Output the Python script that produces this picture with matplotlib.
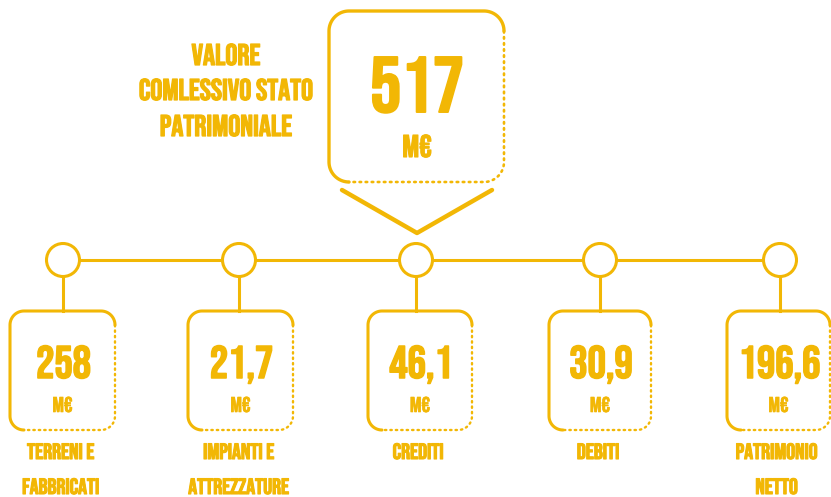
import numpy as np
import matplotlib
matplotlib.use("Agg")
import matplotlib.pyplot as plt
import matplotlib.patheffects as pe

# data
total_value = "517"
unit = "M€"
title_lines = ["VALORE", "COMLESSIVO STATO", "PATRIMONIALE"]
values = ["258", "21,7", "46,1", "30,9", "196,6"]
labels = [["TERRENI E", "FABBRICATI"], ["IMPIANTI E", "ATTREZZATURE"], ["CREDITI"],
          ["DEBITI"], ["PATRIMONIO", "NETTO"]]

col = "#F2B705"
font = ["Bebas Neue", "Oswald", "DejaVu Sans"]

fig = plt.figure(figsize=(8.31, 4.97), dpi=100)
ax = fig.add_axes([0, 0, 1, 1])
ax.set_xlim(0, 831)
ax.set_ylim(497, 0)
ax.axis("off")


def txt(x, y, s, cap, bold=0.8):
    # y is the baseline in pixels, cap is the cap height in pixels
    size = cap / 0.7 * 72 / 100
    ax.text(x, y, s, color=col, fontsize=size, family=font,
            ha="center", va="baseline",
            path_effects=[pe.withStroke(linewidth=bold, foreground=col)])


def arc(cx, cy, r, a0, a1, n=20):
    t = np.radians(np.linspace(a0, a1, n))
    return list(cx + r * np.cos(t)), list(cy + r * np.sin(t))


def box(x0, y0, x1, y1, r, lw_solid, lw_dot):
    # solid: bottom-left corner, left side, top, top-right corner
    xs, ys = [], []
    for c, a in [((x0 + r, y1 - r), 90), ((x0 + r, y0 + r), 180), ((x1 - r, y0 + r), 270)]:
        px, py = arc(c[0], c[1], r, a, a + 90)
        xs += px; ys += py
    ax.plot(xs, ys, color=col, lw=lw_solid, solid_capstyle="round")
    # dotted: right side, bottom-right corner, bottom
    px, py = arc(x1 - r, y1 - r, r, 0, 90)
    xs = [x1] + px + [x0 + r]
    ys = [y0 + r] + py + [y1]
    ax.plot(xs, ys, color=col, lw=lw_dot, linestyle=(0, (0.6, 1.7)),
            dash_capstyle="round")


# top box
box(329, 11, 504, 182, 20, 2.4, 1.9)
ax.plot([342, 417, 492], [190, 233, 190], color=col, lw=3.2, solid_capstyle="round")
txt(417, 112, total_value, 55, 1.4)
txt(417, 157, unit, 22, 0.8)

# title
for i, line in enumerate(title_lines):
    txt(226, [65, 100, 136][i], line, 21, 0.9)

# timeline
cx = [63, 239, 416, 600, 780]
cy = 260
rad = 16.5
ax.plot([cx[0] + rad, cx[-1] - rad], [cy, cy], color=col, lw=2.2, zorder=1)
for x in cx:
    ax.add_patch(plt.Circle((x, cy), rad, fill=True, facecolor="white",
                            edgecolor=col, lw=2.2, zorder=2))
    ax.plot([x, x], [cy + rad, 311], color=col, lw=2.2)

bx = [(10, 115), (188, 293), (368, 472), (549, 651), (727, 830)]
for (x0, x1), v, lab in zip(bx, values, labels):
    box(x0, 311, x1, 430, 14, 2.2, 1.7)
    mx = (x0 + x1) / 2
    txt(mx + 1, 378, v, 32, 1.1)
    txt(mx, 412, unit, 15, 0.45)
    for j, l in enumerate(lab):
        txt(mx - 2, [459, 494][j], l, 15.5, 0.8)

fig.savefig("out.png", dpi=100)
